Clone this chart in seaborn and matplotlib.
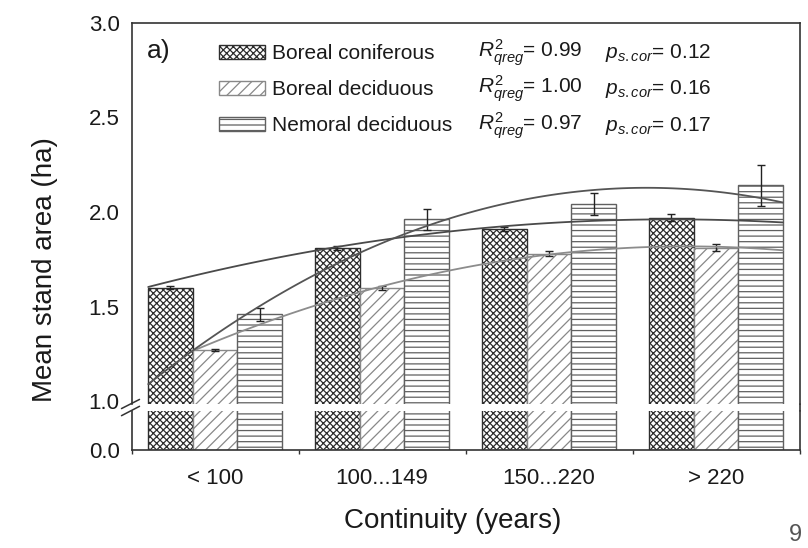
import numpy as np
import pandas as pd
import matplotlib
matplotlib.use("Agg")
import matplotlib.pyplot as plt
from matplotlib.lines import Line2D
from matplotlib.ticker import MultipleLocator, FixedLocator
import seaborn as sns

# datos
groups = ["< 100", "100...149", "150...220", "> 220"]
types = ["Boreal coniferous", "Boreal deciduous", "Nemoral deciduous"]
coniferous = [1.60, 1.81, 1.91, 1.97]
deciduous = [1.27, 1.60, 1.78, 1.81]
nemoral = [1.46, 1.96, 2.04, 2.14]
coniferous_err = [0.008, 0.012, 0.012, 0.02]
deciduous_err = [0.006, 0.01, 0.012, 0.018]
nemoral_err = [0.034, 0.053, 0.058, 0.107]

# curvas de regresion cuadratica (puntos leidos, x en unidades de categoria)
con_curve_x = [-0.40, 0.73, 1.28, 1.87, 2.56, 3.40]
con_curve_y = [1.60, 1.82, 1.89, 1.93, 1.95, 1.95]
dec_curve_x = [-0.12, 0.15, 0.40, 1.12, 1.46, 1.60, 2.12, 2.56, 3.12, 3.40]
dec_curve_y = [1.27, 1.37, 1.44, 1.64, 1.70, 1.72, 1.79, 1.81, 1.81, 1.80]
nem_curve_x = [-0.40, -0.13, 0.61, 0.79, 1.28, 1.40, 2.14, 2.68, 3.40]
nem_curve_y = [1.09, 1.25, 1.69, 1.77, 1.94, 1.96, 2.09, 2.10, 2.07]

r2_text = ["0.99", "1.00", "0.97"]
p_text = ["0.12", "0.16", "0.17"]

sns.set_theme(style="white")
plt.rcParams["font.family"] = ["Liberation Sans", "DejaVu Sans"]
plt.rcParams["mathtext.fontset"] = "custom"
plt.rcParams["mathtext.rm"] = "Liberation Sans"
plt.rcParams["mathtext.it"] = "Liberation Sans:italic"
plt.rcParams["hatch.linewidth"] = 0.9

df = pd.DataFrame({
    "continuity": groups * 3,
    "area": coniferous + deciduous + nemoral,
    "forest": [t for t in types for _ in groups],
})
errs = {types[0]: coniferous_err, types[1]: deciduous_err, types[2]: nemoral_err}
hatches = {types[0]: "xxxxx", types[1]: "///", types[2]: "---"}
edges = {types[0]: "#2e2e2e", types[1]: "#888888", types[2]: "#606060"}
text_c = "#1a1a1a"

fig = plt.figure(figsize=(8.08, 5.48), dpi=100)
ax_top = fig.add_axes([131.5 / 808, 1 - 404 / 548, 668 / 808, (404 - 22.7) / 548])
ax_bot = fig.add_axes([131.5 / 808, 1 - 450 / 548, 668 / 808, 39 / 548])


def draw_bars(ax):
    sns.barplot(data=df, x="continuity", y="area", hue="forest", order=groups,
                hue_order=types, width=0.8, errorbar=None, ax=ax, legend=False)
    for cont, t in zip(ax.containers, types):
        xs = []
        for bar in cont:
            bar.set_facecolor("white")
            bar.set_edgecolor(edges[t])
            bar.set_hatch(hatches[t])
            bar.set_linewidth(1.0)
            xs.append(bar.get_x() + bar.get_width() / 2)
        vals = df.loc[df["forest"] == t, "area"].values
        ax.errorbar(xs, vals, yerr=errs[t], fmt="none", ecolor="#222222",
                    elinewidth=1.0, capsize=3, capthick=1.0, zorder=5)
    ax.set_xlabel("")
    ax.set_ylabel("")
    ax.set_xlim(-0.5, 3.5)


draw_bars(ax_top)
draw_bars(ax_bot)

# curvas qreg
for cx, cy, col in [(con_curve_x, con_curve_y, "#4a4a4a"),
                    (dec_curve_x, dec_curve_y, "#8c8c8c"),
                    (nem_curve_x, nem_curve_y, "#555555")]:
    sns.regplot(x=np.array(cx), y=np.array(cy), order=2, scatter=False, ci=None,
                truncate=True, ax=ax_top, line_kws=dict(color=col, lw=1.3, zorder=6))
ax_top.set_xlim(-0.5, 3.5)

ax_top.set_ylim(0.985, 3.0)
ax_bot.set_ylim(0.0, 1.0)

spine_c = "#333333"
for ax in (ax_top, ax_bot):
    for s in ax.spines.values():
        s.set_color(spine_c)
        s.set_linewidth(1.2)
    ax.tick_params(axis="both", which="major", direction="out", length=5, width=1.1,
                   color=spine_c, labelsize=16, labelcolor=text_c)
    ax.tick_params(axis="both", which="minor", direction="out", length=3, width=1.0,
                   color=spine_c)
    ax.grid(False)

ax_top.spines["bottom"].set_visible(False)
ax_top.tick_params(axis="x", which="both", bottom=False, labelbottom=False)
ax_top.yaxis.set_major_locator(FixedLocator([1.0, 1.5, 2.0, 2.5, 3.0]))
ax_top.yaxis.set_minor_locator(MultipleLocator(0.25))
ax_top.set_yticklabels(["1.0", "1.5", "2.0", "2.5", "3.0"])
ax_top.tick_params(axis="y", which="both", right=False)

ax_bot.spines["top"].set_visible(False)
ax_bot.yaxis.set_major_locator(FixedLocator([0.0]))
ax_bot.yaxis.set_minor_locator(FixedLocator([0.5]))
ax_bot.set_yticklabels(["0.0"])
ax_bot.xaxis.set_minor_locator(FixedLocator([-0.5, 0.5, 1.5, 2.5, 3.5]))
ax_bot.set_xticks(range(len(groups)))
ax_bot.set_xticklabels(groups)
ax_bot.tick_params(axis="x", which="major", pad=8)
ax_bot.tick_params(axis="x", which="minor", bottom=True)

# marcas de corte del eje
kw = dict(color=spine_c, lw=1.1, clip_on=False)
ax_top.plot([-0.015, 0.012], [-0.012, 0.012], transform=ax_top.transAxes, **kw)
ax_bot.plot([-0.015, 0.012], [0.88, 1.12], transform=ax_bot.transAxes, **kw)
fig.add_artist(Line2D([799.5 / 808, 799.5 / 808], [1 - 404 / 548, 1 - 411 / 548],
                      color=spine_c, lw=1.2))

# leyenda
handles = [ax_top.containers[i][0] for i in range(3)]
leg = ax_top.legend(handles, types, loc="upper left", bbox_to_anchor=(0.131, 0.944),
                    frameon=False, fontsize=15, handlelength=2.2, handleheight=0.65,
                    handletextpad=0.35, labelspacing=0.82, borderpad=0, borderaxespad=0)
for t in leg.get_texts():
    t.set_color(text_c)

rows_y = [0.9205, 0.826, 0.730]
for yy, r2, pv in zip(rows_y, r2_text, p_text):
    ax_top.text(0.5187, yy, r"$R^2_{qreg}$= " + r2, transform=ax_top.transAxes,
                fontsize=15, va="center", color=text_c)
    ax_top.text(0.709, yy, r"$p_{s.cor}$= " + pv, transform=ax_top.transAxes,
                fontsize=15, va="center", color=text_c)

ax_top.text(0.023, 0.925, "a)", transform=ax_top.transAxes, fontsize=19,
            va="center", color=text_c)

fig.text(45 / 808, 1 - 270 / 548, "Mean stand area (ha)", rotation=90, fontsize=20,
         ha="center", va="center", color=text_c)
fig.text(453 / 808, 1 - 521 / 548, "Continuity (years)", fontsize=20,
         ha="center", va="center", color=text_c)
fig.text(795 / 808, 0.004, "9", fontsize=17, ha="center", va="bottom",
         color="#555555")

fig.savefig("out.png", dpi=100)
